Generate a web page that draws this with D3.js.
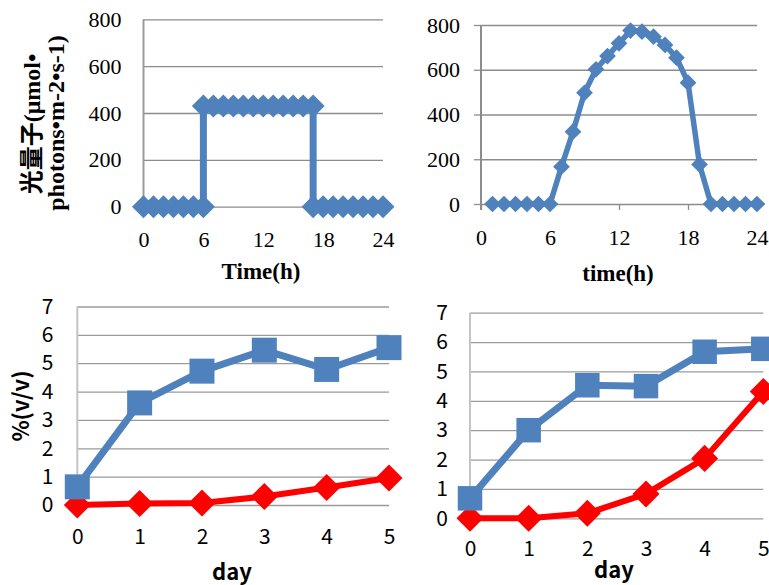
<!DOCTYPE html>
<html>
<head>
<meta charset="utf-8">
<script src="https://cdn.jsdelivr.net/npm/d3@7"></script>
<style>
  body { margin: 0; background: #fff; }
  svg { display: block; }
</style>
</head>
<body>
<div id="chart"></div>
<script>
// top left: artificial light, switched on 6h-17h
const stepHours = [0, 1, 2, 3, 4, 5, 6, 6, 7, 8, 9, 10, 11, 12, 13, 14, 15, 16, 17, 17, 18, 19, 20, 21, 22, 23, 24];
const stepPhotons = [0, 0, 0, 0, 0, 0, 0, 430, 430, 430, 430, 430, 430, 430, 430, 430, 430, 430, 430, 0, 0, 0, 0, 0, 0, 0, 0];

// top right: natural daylight curve
const sunHours = [1, 2, 3, 4, 5, 6, 7, 8, 9, 10, 11, 12, 13, 14, 15, 16, 17, 18, 19, 20, 21, 22, 23, 24];
const sunPhotons = [0, 0, 0, 0, 0, 0, 167, 323, 497, 602, 661, 718, 775, 770, 748, 711, 654, 542, 177, 0, 0, 0, 0, 0];

const photonTicks = [0, 200, 400, 600, 800];
const hourTicks = [0, 6, 12, 18, 24];

// bottom: % (v/v) per day
const days = [0, 1, 2, 3, 4, 5];
const leftBlue = [0.64, 3.6, 4.72, 5.46, 4.78, 5.55];
const leftRed = [0, 0.05, 0.07, 0.3, 0.62, 0.95];
const rightBlue = [0.68, 3.0, 4.53, 4.5, 5.67, 5.77];
const rightRed = [0, 0, 0.17, 0.83, 2.04, 4.32];
const percentTicks = [0, 1, 2, 3, 4, 5, 6, 7];

const blue = "#4f81bd",
  red = "#ff0000";
const serif = "'Liberation Serif', 'Times New Roman', 'Noto Sans CJK JP', serif";
const gothic = "'Noto Sans CJK JP', 'Liberation Sans', sans-serif";

const svg = d3
  .select("#chart")
  .append("svg")
  .attr("width", 769)
  .attr("height", 585);

function drawPanel(p) {
  const x = d3.scaleLinear().domain(p.xDomain).range(p.xRange),
    y = d3.scaleLinear().domain(p.yDomain).range(p.yRange),
    g = svg.append("g"),
    x0 = p.xRange[0],
    plotW = p.xRange[1] - p.xRange[0],
    fmt = d3.format("d");

  // gridlines + y tick labels
  const yAxis = g
    .append("g")
    .attr("transform", `translate(${x0},0)`)
    .call(
      d3.axisLeft(y).tickValues(p.yTicks).tickFormat(fmt).tickSize(-plotW).tickPadding(p.yPad)
    );
  yAxis.select(".domain").remove();
  yAxis.selectAll(".tick line").attr("stroke", p.gridColor).attr("stroke-width", 1.3);
  yAxis
    .selectAll("text")
    .attr("font-family", p.font)
    .attr("font-size", p.fontSize)
    .attr("fill", "#000");

  if (p.outerTicks) {
    const outer = g
      .append("g")
      .attr("transform", `translate(${x0},0)`)
      .call(d3.axisLeft(y).tickValues(p.yTicks).tickSize(7).tickFormat(""));
    outer.select(".domain").remove();
    outer.selectAll("line").attr("stroke", p.gridColor).attr("stroke-width", 1.3);
  }

  g.append("line")
    .attr("x1", x0)
    .attr("x2", x0)
    .attr("y1", p.yRange[1])
    .attr("y2", p.yRange[0] + (p.outerTicks ? 6 : 0))
    .attr("stroke", p.axisColor)
    .attr("stroke-width", 2);

  const xAxis = g
    .append("g")
    .attr("transform", `translate(0,${p.yRange[0]})`)
    .call(
      d3.axisBottom(x).tickValues(p.xTicks).tickFormat(fmt).tickSize(p.xTickSize).tickPadding(p.xPad)
    );
  xAxis.select(".domain").remove();
  xAxis.selectAll(".tick line").attr("stroke", p.gridColor).attr("stroke-width", 1.3);
  xAxis
    .selectAll("text")
    .attr("font-family", p.font)
    .attr("font-size", p.fontSize)
    .attr("fill", "#000");

  p.series.forEach((s) => {
    const pts = s.xs.map((v, i) => [x(v), y(s.ys[i])]);
    g.append("path")
      .attr("d", d3.line()(pts))
      .attr("fill", "none")
      .attr("stroke", s.color)
      .attr("stroke-width", s.width)
      .attr("stroke-linejoin", "round");
    g.append("g")
      .selectAll("path")
      .data(pts)
      .join("path")
      .attr("transform", (d) => `translate(${d[0]},${d[1]}) rotate(${s.rotate})`)
      .attr("d", d3.symbol(d3.symbolSquare, s.size))
      .attr("fill", s.color);
  });
}

function addText(str, x, y, font, size, rotate) {
  return svg
    .append("text")
    .attr("transform", `translate(${x},${y}) rotate(${rotate || 0})`)
    .attr("text-anchor", "middle")
    .attr("font-family", font)
    .attr("font-size", size)
    .attr("font-weight", "bold")
    .attr("fill", "#000")
    .text(str);
}

drawPanel({
  xDomain: [0, 24], xRange: [143.5, 383],
  yDomain: [0, 800], yRange: [206.7, 19.3],
  xTicks: hourTicks, yTicks: photonTicks,
  font: serif, fontSize: 22, yPad: 22, xPad: 25, xTickSize: 0,
  gridColor: "#8c8c8c", axisColor: "#9a9a9a", outerTicks: false,
  series: [{ xs: stepHours, ys: stepPhotons, color: blue, width: 7, rotate: 45, size: 265 }],
});

drawPanel({
  xDomain: [0, 24], xRange: [481, 757],
  yDomain: [0, 800], yRange: [204, 25],
  xTicks: hourTicks, yTicks: photonTicks,
  font: serif, fontSize: 22, yPad: 21, xPad: 19, xTickSize: 6,
  gridColor: "#8c8c8c", axisColor: "#8c8c8c", outerTicks: true,
  series: [{ xs: sunHours, ys: sunPhotons, color: blue, width: 5.5, rotate: 45, size: 140 }],
});

drawPanel({
  xDomain: [0, 5], xRange: [77.3, 389],
  yDomain: [0, 7], yRange: [505, 306.5],
  xTicks: days, yTicks: percentTicks,
  font: gothic, fontSize: 21, yPad: 24, xPad: 24, xTickSize: 0,
  gridColor: "#9a9a9a", axisColor: "#c4c4c4", outerTicks: false,
  series: [
    { xs: days, ys: leftRed, color: red, width: 6, rotate: 45, size: 365 },
    { xs: days, ys: leftBlue, color: blue, width: 7, rotate: 0, size: 625 },
  ],
});

drawPanel({
  xDomain: [0, 5], xRange: [470, 763.3],
  yDomain: [0, 7], yRange: [518.3, 312.7],
  xTicks: days, yTicks: percentTicks,
  font: gothic, fontSize: 21, yPad: 22, xPad: 23, xTickSize: 0,
  gridColor: "#9a9a9a", axisColor: "#c4c4c4", outerTicks: false,
  series: [
    { xs: days, ys: rightRed, color: red, width: 6, rotate: 45, size: 365 },
    { xs: days, ys: rightBlue, color: blue, width: 7, rotate: 0, size: 600 },
  ],
});

// axis titles
addText("光量子(μmol•", 32, 124, serif, 24, -90).attr("dy", "0.35em");
addText("photons•m-2•s-1)", 56, 123, serif, 24, -90).attr("dy", "0.35em");
addText("Time(h)", 261, 279, serif, 23);
addText("time(h)", 618, 281, serif, 23);
addText("%(v/v)", 21, 406, gothic, 22, -90).attr("dy", "0.35em");
addText("day", 232, 580, gothic, 22);
addText("day", 614, 578, gothic, 22);
</script>
</body>
</html>
